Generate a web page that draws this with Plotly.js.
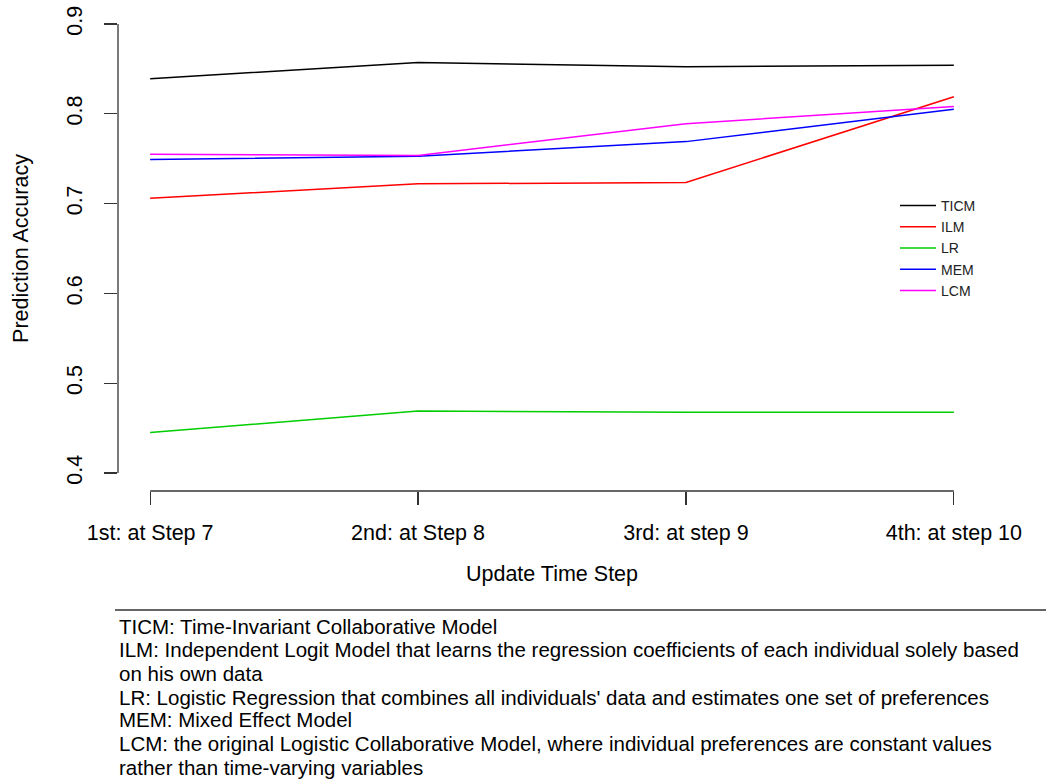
<!DOCTYPE html>
<html>
<head>
<meta charset="utf-8">
<script src="https://cdn.plot.ly/plotly-3.0.1.min.js"></script>
<style>
  html, body { margin: 0; padding: 0; background: #ffffff; }
  #chart { width: 1046px; height: 783px; }
</style>
</head>
<body>
<div id="chart"></div>
<script>
// Update steps on the x axis
const steps = ["1st: at Step 7", "2nd: at Step 8", "3rd: at step 9", "4th: at step 10"];
const stepIndex = [1, 2, 3, 4];

// Prediction accuracy of each model at each update
const ticm = [0.839, 0.857, 0.8525, 0.854];
const ilm  = [0.706, 0.722, 0.7235, 0.819];
const lr   = [0.445, 0.469, 0.4677, 0.4677];
const mem  = [0.749, 0.7527, 0.769, 0.805];
const lcm  = [0.755, 0.7535, 0.789, 0.808];

const seriesNames  = ["TICM", "ILM", "LR", "MEM", "LCM"];
const seriesColors = ["#000000", "#FF0000", "#00CD00", "#0000FF", "#FF00FF"];

const yTicks = [0.4, 0.5, 0.6, 0.7, 0.8, 0.9];

// Model descriptions printed under the chart
const footnoteLines = [
  "TICM: Time-Invariant Collaborative Model",
  "ILM: Independent Logit Model that learns the regression coefficients of each individual solely based",
  "on his own data",
  "LR: Logistic Regression that combines all individuals' data and estimates one set of preferences",
  "MEM: Mixed Effect Model",
  "LCM: the original Logistic Collaborative Model, where individual preferences are constant values",
  "rather than time-varying variables"
];

const FONT = '"Liberation Sans", Arial, Helvetica, sans-serif';
const W = 1046, H = 783;
const M = { l: 118, r: 60, t: 6, b: 292 };
const plotW = W - M.l - M.r;
const plotH = H - M.t - M.b;

// convert page pixel positions outside the plot into paper coordinates
const px = x => (x - M.l) / plotW;
const py = y => (H - M.b - y) / plotH;

const allSeries = [ticm, ilm, lr, mem, lcm];
const traces = allSeries.map((vals, i) => ({
  type: "scatter",
  mode: "lines",
  x: stepIndex,
  y: vals,
  name: seriesNames[i],
  legendgroup: seriesNames[i],
  line: { color: seriesColors[i], width: 1.5 },
  hoverinfo: "skip"
}));

const xMin = Math.min(...stepIndex), xMax = Math.max(...stepIndex);
const yMin = Math.min(...yTicks), yMax = Math.max(...yTicks);
const xPad = (xMax - xMin) * 0.04, yPad = (yMax - yMin) * 0.04;

const shapes = [
  // x axis line spanning the first to last tick
  { type: "line", xref: "x", yref: "paper", x0: xMin, x1: xMax, y0: 0, y1: 0,
    line: { color: "#333333", width: 1.3 } },
  // y axis line spanning the first to last tick
  { type: "line", xref: "paper", yref: "y", x0: 0, x1: 0, y0: yMin, y1: yMax,
    line: { color: "#333333", width: 1.3 } },
  // rule above the footnote
  { type: "line", xref: "paper", yref: "paper", x0: px(115), x1: px(1046), y0: py(610), y1: py(610),
    line: { color: "#333333", width: 1.3 } }
];

const footY = [626.7, 649.5, 673.5, 697, 719.5, 743.5, 767];
const annotations = footnoteLines.map((t, i) => ({
  text: t,
  xref: "paper", yref: "paper",
  x: px(117), y: py(footY[i]),
  xanchor: "left", yanchor: "middle",
  showarrow: false,
  font: { family: FONT, size: 20.5, color: "#000000" }
}));

const layout = {
  width: W, height: H,
  margin: M,
  paper_bgcolor: "#ffffff",
  plot_bgcolor: "#ffffff",
  font: { family: FONT, color: "#000000" },
  showlegend: true,
  legend: {
    x: px(895), y: py(190), xanchor: "left", yanchor: "top",
    bgcolor: "rgba(0,0,0,0)", borderwidth: 0,
    font: { family: FONT, size: 14, color: "#222222" },
    tracegroupgap: 0,
    itemwidth: 36
  },
  xaxis: {
    range: [xMin - xPad, xMax + xPad],
    tickmode: "array", tickvals: stepIndex, ticktext: steps,
    ticks: "outside", ticklen: 13, tickwidth: 1.3, tickcolor: "#333333",
    ticklabelstandoff: 9,
    showgrid: false, zeroline: false, showline: false,
    tickfont: { family: FONT, size: 21.5, color: "#000000" },
    title: { text: "Update Time Step", font: { family: FONT, size: 21.5, color: "#000000" }, standoff: 22 },
    fixedrange: true
  },
  yaxis: {
    range: [yMin - yPad, yMax + yPad],
    tickmode: "array", tickvals: yTicks, ticktext: yTicks.map(v => v.toFixed(1)),
    tickangle: -90,
    ticks: "outside", ticklen: 13, tickwidth: 1.3, tickcolor: "#333333",
    ticklabelstandoff: 13,
    showgrid: false, zeroline: false, showline: false,
    tickfont: { family: FONT, size: 21.5, color: "#000000" },
    title: { text: "Prediction Accuracy", font: { family: FONT, size: 21.5, color: "#000000" }, standoff: 28 },
    fixedrange: true
  },
  shapes: shapes,
  annotations: annotations
};

Plotly.newPlot("chart", traces, layout, { displayModeBar: false, staticPlot: true });
</script>
</body>
</html>
